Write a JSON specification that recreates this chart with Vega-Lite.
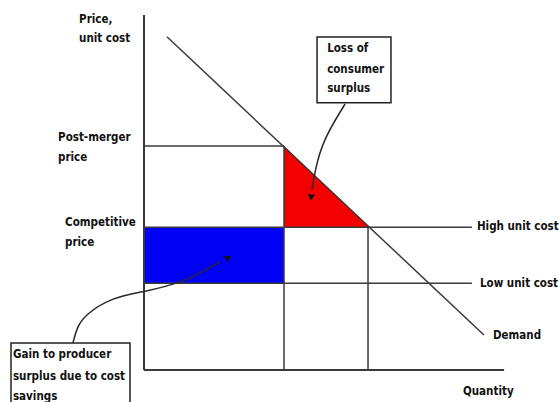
{
  "$schema": "https://vega.github.io/schema/vega-lite/v6.json",
  "width": 559,
  "height": 402,
  "padding": 0,
  "autosize": {"type": "none"},
  "background": "white",
  "config": {"view": {"stroke": null}},
  "datasets": {
    "lines": [
      {"q": 0, "q2": 0, "p": 0, "p2": 12.68, "w": 2},
      {"q": 0, "q2": 12.86, "p": 0, "p2": 0, "w": 2},
      {"q": 0, "q2": 5, "p": 8, "p2": 8, "w": 1.5},
      {"q": 0, "q2": 11.71, "p": 5.1, "p2": 5.1, "w": 1.5},
      {"q": 0, "q2": 11.71, "p": 3.1, "p2": 3.1, "w": 1.5},
      {"q": 5, "q2": 5, "p": 0, "p2": 8, "w": 1.5},
      {"q": 8, "q2": 8, "p": 0, "p2": 5.1, "w": 1.5},
      {"q": 0.82, "q2": 12.14, "p": 11.9, "p2": 1.25, "w": 1.5}
    ],
    "labels": [
      {"q": -2.32, "p": 12.5, "t": "Price,"},
      {"q": -2.32, "p": 11.82, "t": "unit cost"},
      {"q": -3.07, "p": 8.29, "t": "Post-merger"},
      {"q": -3.07, "p": 7.57, "t": "price"},
      {"q": -2.82, "p": 5.25, "t": "Competitive"},
      {"q": -2.82, "p": 4.54, "t": "price"},
      {"q": 11.89, "p": 5.1, "t": "High unit cost"},
      {"q": 12.0, "p": 3.07, "t": "Low unit cost"},
      {"q": 12.46, "p": 1.21, "t": "Demand"},
      {"q": 11.39, "p": -0.79, "t": "Quantity"},
      {"q": 6.54, "p": 11.46, "t": "Loss of"},
      {"q": 6.54, "p": 10.71, "t": "consumer"},
      {"q": 6.54, "p": 10.04, "t": "surplus"},
      {"q": -4.68, "p": 0.54, "t": "Gain to producer"},
      {"q": -4.68, "p": -0.25, "t": "surplus due to cost"},
      {"q": -4.68, "p": -0.96, "t": "savings"}
    ],
    "boxes": [
      {"q": 6.18, "q2": 8.82, "p": 11.89, "p2": 9.54},
      {"q": -4.75, "q2": -0.5, "p": 0.96, "p2": -1.4}
    ],
    "curves": [
      {"id": "loss", "o": 1, "q": 7.18, "p": 9.5},
      {"id": "loss", "o": 2, "q": 6.39, "p": 8.21},
      {"id": "loss", "o": 3, "q": 6.11, "p": 7.14},
      {"id": "loss", "o": 4, "q": 6.0, "p": 6.43},
      {"id": "gain", "o": 1, "q": -2.54, "p": 0.96},
      {"id": "gain", "o": 2, "q": -2.39, "p": 1.54},
      {"id": "gain", "o": 3, "q": -2.11, "p": 1.96},
      {"id": "gain", "o": 4, "q": -1.21, "p": 2.57},
      {"id": "gain", "o": 5, "q": -0.04, "p": 2.79},
      {"id": "gain", "o": 6, "q": 1.39, "p": 3.11},
      {"id": "gain", "o": 7, "q": 2.71, "p": 3.86}
    ],
    "heads": [
      {"q": 5.97, "p": 6.2, "a": 185},
      {"q": 2.98, "p": 4.0, "a": 60}
    ],
    "triangle": [
      {"q": 5, "top": 8, "bot": 5.1},
      {"q": 8, "top": 5.14, "bot": 5.1}
    ]
  },
  "layer": [
    {
      "data": {"values": [{"q": 0, "q2": 5, "p": 5.1, "p2": 3.1}]},
      "mark": {"type": "rect", "color": "#0000f5"},
      "encoding": {
        "x": {"field": "q", "type": "quantitative", "scale": {"domain": [-5.143, 14.821], "nice": false, "zero": false}, "axis": null},
        "x2": {"field": "q2"},
        "y": {"field": "p", "type": "quantitative", "scale": {"domain": [-1.143, 13.214], "nice": false, "zero": false}, "axis": null},
        "y2": {"field": "p2"}
      }
    },
    {
      "data": {"name": "triangle"},
      "mark": {"type": "area", "color": "#f50000", "opacity": 1},
      "encoding": {
        "x": {"field": "q", "type": "quantitative", "axis": null},
        "y": {"field": "top", "type": "quantitative", "axis": null},
        "y2": {"field": "bot"}
      }
    },
    {
      "data": {"name": "lines"},
      "mark": {"type": "rule", "color": "#3a3a3a"},
      "encoding": {
        "x": {"field": "q", "type": "quantitative", "axis": null},
        "x2": {"field": "q2"},
        "y": {"field": "p", "type": "quantitative", "axis": null},
        "y2": {"field": "p2"},
        "strokeWidth": {"field": "w", "type": "quantitative", "scale": null}
      }
    },
    {
      "data": {"name": "boxes"},
      "mark": {"type": "rect", "fill": "white", "stroke": "#222222", "strokeWidth": 1.5},
      "encoding": {
        "x": {"field": "q", "type": "quantitative", "axis": null},
        "x2": {"field": "q2"},
        "y": {"field": "p", "type": "quantitative", "axis": null},
        "y2": {"field": "p2"}
      }
    },
    {
      "data": {"name": "curves"},
      "mark": {"type": "line", "interpolate": "basis", "color": "#2a2a2a", "strokeWidth": 1.5},
      "encoding": {
        "x": {"field": "q", "type": "quantitative", "axis": null},
        "y": {"field": "p", "type": "quantitative", "axis": null},
        "detail": {"field": "id"},
        "order": {"field": "o"}
      }
    },
    {
      "data": {"name": "heads"},
      "mark": {"type": "point", "shape": "triangle", "filled": true, "color": "#111111", "size": 50, "opacity": 1},
      "encoding": {
        "x": {"field": "q", "type": "quantitative", "axis": null},
        "y": {"field": "p", "type": "quantitative", "axis": null},
        "angle": {"field": "a", "type": "quantitative", "scale": null}
      }
    },
    {
      "data": {"name": "labels"},
      "mark": {"type": "text", "align": "left", "baseline": "middle", "font": "DejaVu Sans Condensed, Liberation Sans Narrow, DejaVu Sans", "fontWeight": "bold", "fontSize": 11.5, "color": "#111111"},
      "encoding": {
        "x": {"field": "q", "type": "quantitative", "axis": null},
        "y": {"field": "p", "type": "quantitative", "axis": null},
        "text": {"field": "t"}
      }
    }
  ]
}
